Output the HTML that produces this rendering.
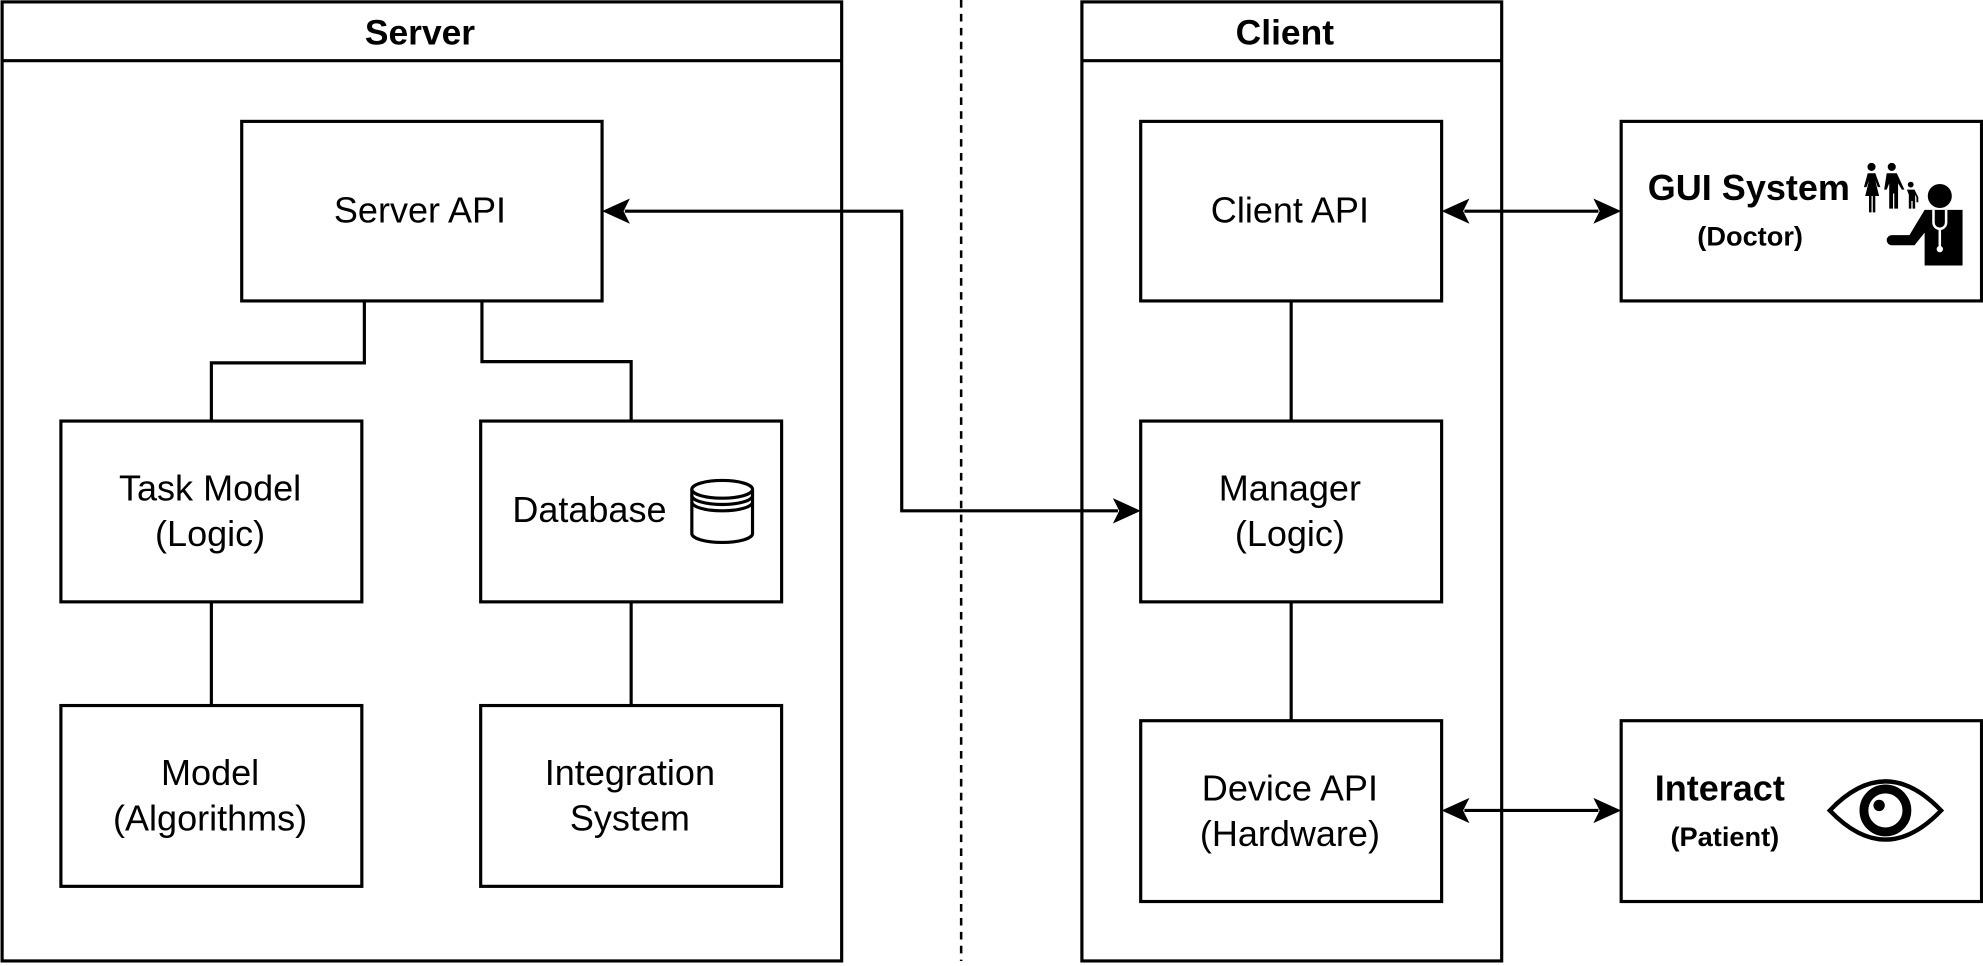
<!DOCTYPE html>
<html><head><meta charset="utf-8"><style>
html,body{margin:0;padding:0;background:#fff}
svg{display:block}
text{font-family:"Liberation Sans",Arial,sans-serif;fill:#000}
</style></head><body>
<svg width="1983" height="966" viewBox="0 0 1568 764" xmlns="http://www.w3.org/2000/svg">
<g fill="none" stroke="#000" stroke-width="2.5">
<rect x="1.5" y="1.5" width="664" height="758.5"/>
<line x1="1.5" y1="48" x2="665.5" y2="48"/>
<rect x="855.5" y="1.5" width="332" height="758.5"/>
<line x1="855.5" y1="48" x2="1187.5" y2="48"/>
<line x1="760" y1="0" x2="760" y2="760" stroke-dasharray="6,5" stroke-width="2"/>
<rect x="191" y="96" width="285" height="142"/>
<rect x="48" y="333" width="238" height="143"/>
<rect x="380" y="333" width="238" height="143"/>
<rect x="48" y="558" width="238" height="143"/>
<rect x="380" y="558" width="238" height="143"/>
<rect x="902" y="96" width="238" height="142"/>
<rect x="902" y="333" width="238" height="143"/>
<rect x="902" y="570" width="238" height="143"/>
<rect x="1282" y="96" width="285" height="142"/>
<rect x="1282" y="570" width="285" height="143"/>
<polyline points="288,238 288,287 167,287 167,333"/>
<polyline points="381,238 381,286 499,286 499,333"/>
<line x1="167" y1="476" x2="167" y2="558"/>
<line x1="499" y1="476" x2="499" y2="558"/>
<line x1="1021" y1="238" x2="1021" y2="333"/>
<line x1="1021" y1="476" x2="1021" y2="570"/>
<polyline points="494,167 713,167 713,404 884,404"/>
<line x1="1158" y1="167" x2="1264" y2="167"/>
<line x1="1158" y1="641" x2="1264" y2="641"/>
<path d="M547,387 v35 a24,7 0 0 0 48,0 v-35"/>
<ellipse cx="571" cy="387" rx="24" ry="7" />
<path d="M547,392 a24,7 0 0 0 48,0 M547,397 a24,7 0 0 0 48,0"/>
</g>
<g fill="#000">
<polygon points="476,167 498,157 493,167 498,177"/>
<polygon points="902,404 880,394 885,404 880,414"/>
<polygon points="1140,167 1162,157 1157,167 1162,177"/>
<polygon points="1282,167 1260,157 1265,167 1260,177"/>
<polygon points="1140,641 1162,631 1157,641 1162,651"/>
<polygon points="1282,641 1260,631 1265,641 1260,651"/>
</g>
<path d="M1447,641 Q1491,595 1535,641 Q1491,687 1447,641 Z" fill="none" stroke="#000" stroke-width="3.5"/>
<circle cx="1491" cy="641" r="17" fill="none" stroke="#000" stroke-width="7"/>
<circle cx="1486" cy="637" r="4.5" fill="#000"/>
<g fill="#000">
<circle cx="1534" cy="155" r="9.5"/>
<path d="M1522,166 h30 v44 h-30 v-26 l-8,10 h-18 a4,4 0 0 1 0,-8 h14 z"/>
</g>
<path d="M1529,166 v10 a5,5 0 0 0 10,0 v-10 M1534,181 v14" stroke="#fff" stroke-width="2" fill="none"/>
<circle cx="1534" cy="197" r="2.5" fill="#fff"/>
<g fill="#000">
<circle cx="1480" cy="132" r="3.2"/>
<path d="M1477,137 h6 l4,11 h-2 l-2,-5 l3,12 h-3 v13 h-2 v-13 h-1 v13 h-2 v-13 h-3 l3,-12 l-2,5 h-2 z"/>
<circle cx="1496" cy="132" r="3.2"/>
<path d="M1492,137 h8 l6,13 h-2 l-3,-5 v20 h-3 v-12 h-1 v12 h-3 v-20 l-2,5 h-2 z"/>
<circle cx="1511" cy="146" r="2.3"/>
<path d="M1508,150 h6 l3,6 v4 h-1.5 v-4 l-1,-2 v11 h-2 v-6 h-1 v6 h-2 v-11 z"/>
</g>
<g text-anchor="middle" font-size="28.5">
<text x="332" y="35" font-weight="bold" font-size="28">Server</text>
<text x="1016" y="35" font-weight="bold" font-size="28">Client</text>
<text x="332" y="176">Server API</text>
<text x="166" y="396">Task Model</text>
<text x="166" y="432">(Logic)</text>
<text x="466" y="413">Database</text>
<text x="166" y="621">Model</text>
<text x="166" y="657">(Algorithms)</text>
<text x="498" y="621">Integration</text>
<text x="498" y="657">System</text>
<text x="1020" y="176">Client API</text>
<text x="1020" y="396">Manager</text>
<text x="1020" y="432">(Logic)</text>
<text x="1020" y="633">Device API</text>
<text x="1020" y="669">(Hardware)</text>
<text x="1383" y="158" font-weight="bold">GUI System</text>
<text x="1384" y="194" font-weight="bold" font-size="21.5">(Doctor)</text>
<text x="1360" y="633" font-weight="bold">Interact</text>
<text x="1364" y="669" font-weight="bold" font-size="21.5">(Patient)</text>
</g>
</svg>
</body></html>
